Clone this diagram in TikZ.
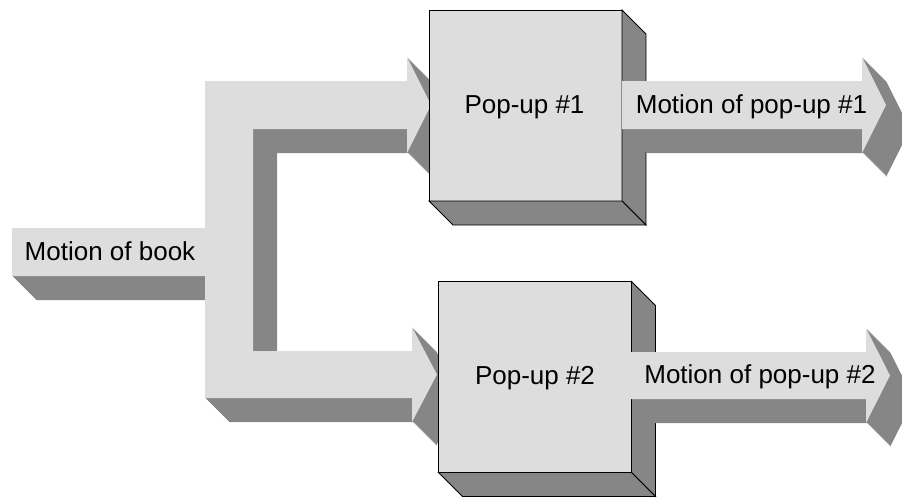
\documentclass[tikz,border=0pt]{standalone}
\usepackage{fontspec}
\setmainfont{Liberation Sans}
\definecolor{face}{HTML}{DDDDDD}
\definecolor{side}{HTML}{868686}
\tikzset{
  lbl/.style={font=\fontsize{26}{30}\selectfont, inner sep=0pt, outer sep=0pt, anchor=base},
  boxfront/.style={fill=face, draw=black, line width=0.8pt, inner sep=0pt, outer sep=0pt,
    minimum width=193pt, minimum height=191pt, font=\fontsize{26}{30}\selectfont},
  sideface/.style={fill=side, draw=black, line width=0.8pt, line join=miter},
}
\newcommand\pipeshape{(12,228) -- (205,228) -- (205,81) -- (407,81) -- (407,57) -- (431,105)
  -- (407,153) -- (407,129) -- (253,129) -- (253,351) -- (412,351) -- (412,327) -- (437,374.5)
  -- (412,422) -- (412,398) -- (205,398) -- (205,276) -- (12,276) -- cycle}
\newcommand\outshapeA{(622,81) -- (862,81) -- (862,57) -- (886,105) -- (862,153) -- (862,129) -- (622,129) -- cycle}
\newcommand\outshapeB{(631,352) -- (866,352) -- (866,328) -- (890,375.5) -- (866,423) -- (866,399) -- (631,399) -- cycle}
\begin{document}
\begin{tikzpicture}[x=1pt,y=-1pt]
\useasboundingbox (0,0) rectangle (902,498);
% input pipe
\foreach \t in {1,...,24} { \fill[side, shift={(\t,\t)}] \pipeshape; }
\fill[face] \pipeshape;
% box 1
\node[boxfront] (box1) at (525.5,105.5) {};
\draw[sideface] (box1.north east) -- ++(24,24) -- ([shift={(24,24)}]box1.south east) -- (box1.south east) -- cycle;
\draw[sideface] (box1.south west) -- ++(24,24) -- ([shift={(24,24)}]box1.south east) -- (box1.south east) -- cycle;
% box 2
\node[boxfront] (box2) at (535,377) {};
\draw[sideface] (box2.north east) -- ++(24,24) -- ([shift={(24,24)}]box2.south east) -- (box2.south east) -- cycle;
\draw[sideface] (box2.south west) -- ++(24,24) -- ([shift={(24,24)}]box2.south east) -- (box2.south east) -- cycle;
% output arrows
\foreach \t in {1,...,24} { \fill[side, shift={(\t,\t)}] \outshapeA; }
\fill[face] \outshapeA;
\foreach \t in {1,...,24} { \fill[side, shift={(\t,\t)}] \outshapeB; }
\fill[face] \outshapeB;
% labels
\node[lbl] (book) at (110,260) {Motion of book};
\node[lbl] (p1) at (524.5,113) {Pop-up \#1};
\node[lbl] (p2) at (535,384) {Pop-up \#2};
\node[lbl] (m1) at (751.5,113) {Motion of pop-up \#1};
\node[lbl] (m2) at (760,383) {Motion of pop-up \#2};
\end{tikzpicture}
\end{document}
